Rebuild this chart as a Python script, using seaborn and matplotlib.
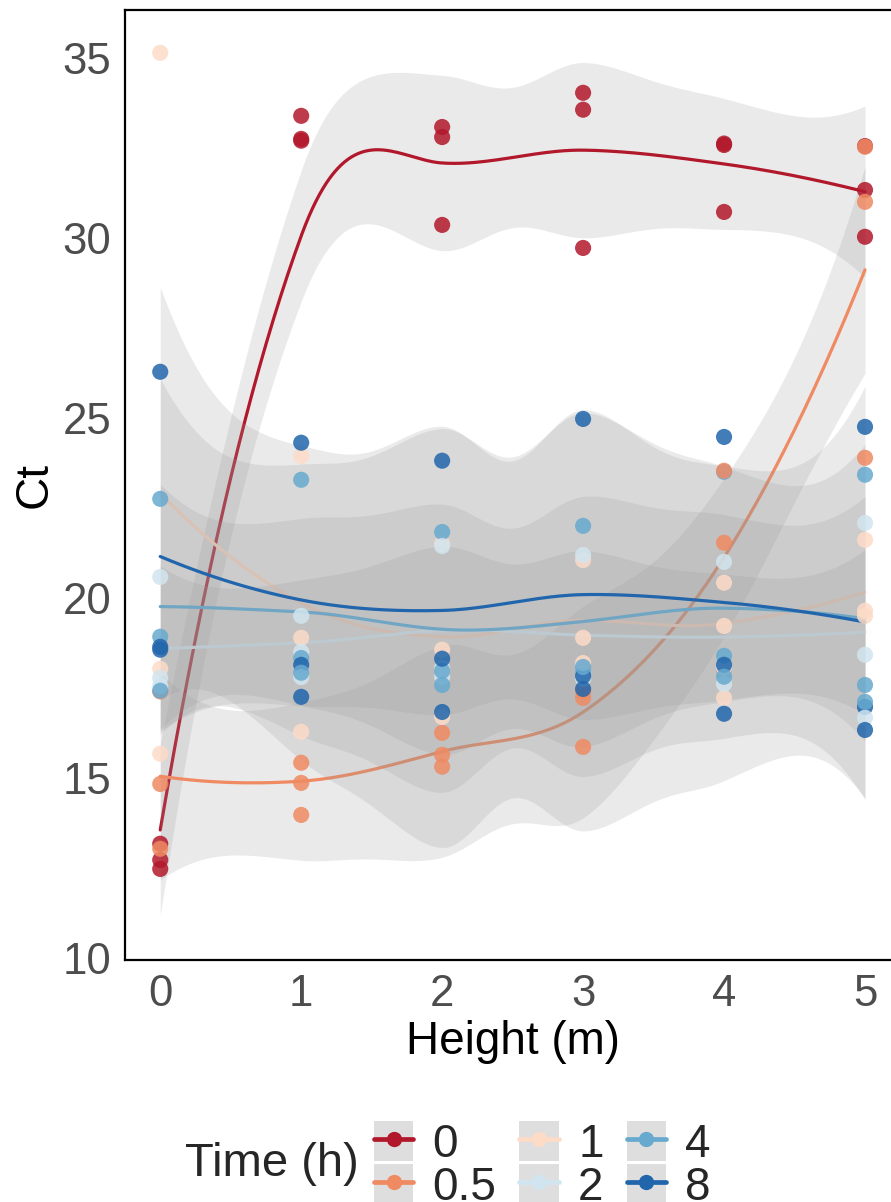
import numpy as np
import pandas as pd
import matplotlib
matplotlib.use("Agg")
import matplotlib.pyplot as plt
import seaborn as sns
from matplotlib.lines import Line2D
from matplotlib.patches import Patch
from matplotlib.legend_handler import HandlerTuple

# ---------------- data ----------------
heights = [0, 1, 2, 3, 4, 5]
time_levels = ["0", "0.5", "1", "2", "4", "8"]
colors = ["#B2182B", "#EF8A62", "#FDDBC7", "#D1E5F0", "#67A9CF", "#2166AC"]
y_ticks = [10, 15, 20, 25, 30, 35]

# Ct values: rows = replicate, columns = height 0..5
ct_t0 = [[13.17, 33.39, 33.08, 34.03, 32.62, 32.55],
         [12.72, 32.75, 32.80, 33.56, 32.58, 31.33],
         [12.47, 32.70, 30.36, 29.72, 30.72, 30.03]]
ct_t05 = [[17.40, 15.42, 16.25, 17.40, 18.00, 32.53],
          [14.83, 14.86, 15.64, 17.22, 23.53, 31.00],
          [13.03, 13.97, 15.31, 15.86, 21.53, 23.89]]
ct_t1 = [[35.14, 23.94, 21.50, 21.05, 20.42, 19.50],
         [15.67, 18.89, 18.56, 18.89, 19.22, 21.61],
         [18.03, 16.28, 16.69, 18.19, 17.22, 19.64]]
ct_t2 = [[17.55, 19.50, 18.05, 17.95, 18.05, 22.08],
         [20.58, 18.50, 17.80, 17.75, 21.00, 18.42],
         [17.78, 17.80, 21.44, 21.19, 17.61, 16.67]]
ct_t4 = [[22.75, 23.28, 21.83, 17.95, 23.50, 23.42],
         [18.92, 18.33, 17.97, 22.00, 18.39, 17.58],
         [17.42, 17.92, 17.58, 18.08, 17.81, 17.11]]
ct_t8 = [[26.28, 24.31, 23.81, 24.97, 24.47, 24.75],
         [18.64, 18.14, 18.31, 17.83, 18.14, 16.97],
         [18.56, 17.25, 16.83, 17.47, 16.78, 16.33]]

series = {"0": ct_t0, "0.5": ct_t05, "1": ct_t1, "2": ct_t2, "4": ct_t4, "8": ct_t8}

rows = []
for rep in range(3):
    for lev in time_levels:
        for h, v in zip(heights, series[lev][rep]):
            rows.append({"height": h, "ct": v, "time": lev})
df = pd.DataFrame(rows)


# ---------------- loess (local quadratic, span 0.75, kd-tree vertex interpolation) ----------------
def t_quantile(nu, z=1.959963985):
    g1 = (z**3 + z) / 4
    g2 = (5 * z**5 + 16 * z**3 + 3 * z) / 96
    g3 = (3 * z**7 + 19 * z**5 + 17 * z**3 - 15 * z) / 384
    g4 = (79 * z**9 + 776 * z**7 + 1482 * z**5 - 1920 * z**3 - 945 * z) / 92160
    return z + g1 / nu + g2 / nu**2 + g3 / nu**3 + g4 / nu**4


def loess_band(x, y, grid, span=0.75):
    x = np.asarray(x, float)
    y = np.asarray(y, float)
    n = len(x)
    q = int(np.floor(n * span))
    lo, hi = x.min(), x.max()
    mu = 0.005 * (hi - lo)
    verts = np.unique(np.concatenate([[lo - mu, hi + mu], np.unique(x)]))

    def op(x0):
        d = np.abs(x - x0)
        rho = np.sort(d)[q - 1]
        u = np.clip(d / rho, 0, 1)
        w = np.where(d < rho, (1 - u**3) ** 3, 0.0)
        X = np.column_stack([np.ones(n), x - x0, (x - x0) ** 2])
        XtW = X.T * w
        B = np.linalg.pinv(XtW @ X) @ XtW
        return B[0], B[1]

    ops = [op(v) for v in verts]
    V0 = np.array([o[0] for o in ops])
    V1 = np.array([o[1] for o in ops])

    def interp(pts):
        out = np.zeros((len(pts), n))
        for k, p in enumerate(pts):
            i = int(np.clip(np.searchsorted(verts, p, side="right") - 1, 0, len(verts) - 2))
            a, b = verts[i], verts[i + 1]
            hh = b - a
            t = (p - a) / hh
            phi0 = (1 - t) ** 2 * (1 + 2 * t)
            phi1 = t**2 * (3 - 2 * t)
            psi0 = t * (1 - t) ** 2
            psi1 = -(t**2) * (1 - t)
            out[k] = phi0 * V0[i] + phi1 * V0[i + 1] + hh * (psi0 * V1[i] + psi1 * V1[i + 1])
        return out

    L = interp(x)
    R = np.eye(n) - L
    M = R.T @ R
    d1 = np.trace(M)
    d2 = np.trace(M @ M)
    s = np.sqrt(np.sum((R @ y) ** 2) / d1)
    Lg = interp(grid)
    fit = Lg @ y
    se = s * np.sqrt((Lg**2).sum(1))
    tq = t_quantile(d1**2 / d2)
    return fit, fit - tq * se, fit + tq * se


# ---------------- plot ----------------
sns.set_theme(style="white")
plt.rcParams["font.family"] = ["Liberation Sans", "DejaVu Sans"]

W, H = 891, 1202
fig = plt.figure(figsize=(W / 100, H / 100), dpi=100)
ax = fig.add_axes([125 / W, (H - 960) / H, 775.25 / W, 950 / H])

grid = np.linspace(0, 5, 200)
for k, (lev, col) in enumerate(zip(time_levels, colors)):
    sub = df[df["time"] == lev]
    fit, lo_b, hi_b = loess_band(sub["height"], sub["ct"], grid)
    ax.fill_between(grid, lo_b, hi_b, color="#999999", alpha=0.2, linewidth=0,
                    zorder=1 + 0.1 * k)
    sm = pd.DataFrame({"height": grid, "ct": fit})
    sns.lineplot(data=sm, x="height", y="ct", color=col, linewidth=2.3, ax=ax,
                 legend=False, zorder=1.05 + 0.1 * k)

sns.scatterplot(data=df, x="height", y="ct", hue="time", hue_order=time_levels,
                palette=colors, s=135, alpha=0.85, linewidth=0, ax=ax,
                legend=False, zorder=3)

ax.set_xlim(-0.25, 5.25)
ax.set_ylim(9.94, 36.33)
ax.set_xticks(heights)
ax.set_xticklabels([str(h) for h in heights])
ax.set_yticks(y_ticks)
ax.set_yticklabels([str(v) for v in y_ticks])
ax.tick_params(axis="both", which="major", direction="out", length=4.3, width=1.1,
               color="#333333", labelcolor="#4D4D4D", labelsize=31.5, pad=5.5)
for sp in ax.spines.values():
    sp.set_visible(True)
    sp.set_color("black")
    sp.set_linewidth(1.6)
ax.set_xlabel("Height (m)", fontsize=33, color="black", labelpad=4)
ax.set_ylabel("Ct", fontsize=33, color="black", labelpad=4)
ax.grid(False)

# legend
handles = [(Patch(facecolor="#DEDEDE", edgecolor="none"),
            Line2D([], [], color=c, lw=3.4, marker="o", ms=11, markeredgewidth=0))
           for c in colors]
fig.legend(handles, time_levels, handler_map={tuple: HandlerTuple(ndivide=1, pad=0)},
           ncol=3, loc="upper left", bbox_to_anchor=(374 / W, 1 - 1121 / H),
           frameon=False, fontsize=33, borderpad=0, borderaxespad=0,
           handlelength=0.86, handleheight=0.95, handletextpad=0.42,
           columnspacing=0.5, labelspacing=-0.05)
fig.text(185 / W, 1 - 1164 / H, "Time (h)", fontsize=34, va="center", ha="left")

fig.savefig("out.png", dpi=100)
